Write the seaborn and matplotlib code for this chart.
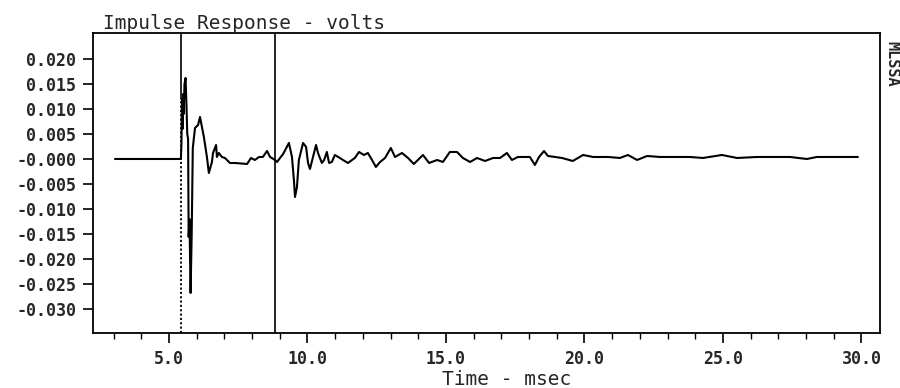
import numpy as np
import pandas as pd
import matplotlib
matplotlib.use("Agg")
import matplotlib.pyplot as plt
import seaborn as sns
from matplotlib.ticker import FixedLocator

# ---- data ----
time_ms = [3.05, 5.43, 5.45, 5.47, 5.49, 5.51, 5.53, 5.56, 5.60, 5.63, 5.66,
           5.69, 5.71, 5.74, 5.78, 5.82, 5.86, 5.94, 6.05, 6.12, 6.19, 6.26,
           6.37, 6.44, 6.55, 6.59, 6.70, 6.73, 6.80, 6.91, 7.02, 7.20, 7.38,
           7.82, 7.96, 8.10, 8.25, 8.39, 8.54, 8.65, 8.83, 8.90, 9.12, 9.33,
           9.44, 9.51, 9.55, 9.62, 9.69, 9.84, 9.95, 10.02, 10.09, 10.20,
           10.31, 10.38, 10.52, 10.60, 10.70, 10.78, 10.88, 10.99, 11.17,
           11.28, 11.46, 11.71, 11.86, 12.04, 12.18, 12.33, 12.47, 12.62,
           12.80, 13.01, 13.16, 13.41, 13.63, 13.84, 14.17, 14.39, 14.68,
           14.89, 15.14, 15.40, 15.61, 15.87, 16.12, 16.41, 16.70, 16.95,
           17.20, 17.38, 17.60, 17.85, 18.03, 18.21, 18.36, 18.54, 18.68,
           18.94, 19.19, 19.58, 19.95, 20.31, 20.85, 21.28, 21.57, 21.90,
           22.26, 22.73, 23.34, 23.81, 24.28, 24.96, 25.51, 26.23, 27.42,
           28.03, 28.39, 28.97, 29.87]
volts = [0.0, 0.0, 0.003, 0.012, 0.006, 0.013, 0.009, 0.015, 0.0162, 0.011,
         0.005, 0.004, -0.0156, -0.012, -0.0268, -0.015, 0.0022, 0.0062,
         0.0068, 0.0084, 0.0064, 0.0044, 0.0004, -0.0028, -0.0006, 0.0012,
         0.0028, 0.0004, 0.0012, 0.0004, 0.0002, -0.0008, -0.0008, -0.001,
         0.0002, -0.0002, 0.0004, 0.0004, 0.0016, 0.0004, -0.0002, -0.0006,
         0.0010, 0.0032, 0.0004, -0.0042, -0.0076, -0.0056, -0.0002, 0.0032,
         0.0024, -0.0008, -0.002, 0.0004, 0.0028, 0.0012, -0.0008, -0.0002,
         0.0014, -0.0008, -0.0006, 0.0008, 0.0002, -0.0002, -0.0008, 0.0002,
         0.0014, 0.0008, 0.0012, -0.0002, -0.0016, -0.0006, 0.0002, 0.0022,
         0.0004, 0.0012, 0.0002, -0.001, 0.0008, -0.0008, -0.0002, -0.0006,
         0.0014, 0.0014, 0.0002, -0.0006, 0.0002, -0.0004, 0.0002, 0.0002,
         0.0012, -0.0002, 0.0004, 0.0004, 0.0004, -0.0012, 0.0004, 0.0016,
         0.0006, 0.0004, 0.0002, -0.0004, 0.0008, 0.0004, 0.0004, 0.0002,
         0.0008, -0.0002, 0.0006, 0.0004, 0.0004, 0.0004, 0.0002, 0.0008,
         0.0002, 0.0004, 0.0004, 0.0, 0.0004, 0.0004, 0.0004]

# cursor markers (ms)
cursor_start = 5.43
cursor_end = 8.83

x_major = [5.0, 10.0, 15.0, 20.0, 25.0, 30.0]
x_major_labels = ["5.0", "10.0", "15.0", "20.0", "25.0", "30.0"]
x_minor = [3, 4, 6, 7, 8, 9, 11, 12, 13, 14, 16, 17, 18, 19, 21, 22, 23, 24,
           26, 27, 28, 29]
y_ticks = [-0.030, -0.025, -0.020, -0.015, -0.010, -0.005, 0.0,
           0.005, 0.010, 0.015, 0.020]
y_labels = ["-0.030", "-0.025", "-0.020", "-0.015", "-0.010", "-0.005",
            "-0.000", "0.005", "0.010", "0.015", "0.020"]

df = pd.DataFrame({"Time": time_ms, "Volts": volts})

# ---- plot ----
sns.set_theme(style="white")
plt.rcParams["font.family"] = ["DejaVu Sans Mono"]

fig = plt.figure(figsize=(9, 3.88), dpi=100)
ax = fig.add_axes([0.1033, 0.1418, 0.8745, 0.7732])

sns.lineplot(data=df, x="Time", y="Volts", ax=ax, color="black",
             linewidth=1.5, estimator=None, sort=False)

# cursors: start cursor solid at top, dotted below
ax.axvline(cursor_start, ymin=0.78, ymax=1.0, color="black", lw=1.2)
ax.axvline(cursor_start, ymin=0.0, ymax=0.78, color="black", lw=1.3,
           linestyle=(0, (1.2, 1.2)))
ax.axvline(cursor_end, color="black", lw=1.2)

ax.set_xlim(2.256, 30.67)
ax.set_ylim(-0.0348, 0.0252)

ax.xaxis.set_major_locator(FixedLocator(x_major))
ax.xaxis.set_minor_locator(FixedLocator(x_minor))
ax.set_xticklabels(x_major_labels)
ax.set_yticks(y_ticks)
ax.set_yticklabels(y_labels)

ax.tick_params(axis="both", which="major", direction="out", length=7,
               width=1.2, color="black", labelsize=12, pad=5)
ax.tick_params(axis="x", which="minor", direction="out", length=4,
               width=1.0, color="black", bottom=True)
ax.tick_params(axis="x", which="major", bottom=True)
ax.tick_params(axis="y", which="major", left=True)
for lab in ax.get_xticklabels() + ax.get_yticklabels():
    lab.set_fontweight("bold")

for side in ["left", "right", "top", "bottom"]:
    ax.spines[side].set_visible(True)
    ax.spines[side].set_color("black")
    ax.spines[side].set_linewidth(1.3)

ax.set_xlabel("Time - msec", fontsize=14, labelpad=1)
ax.xaxis.set_label_coords(0.525, -0.125)
ax.set_ylabel("")
ax.set_title("Impulse Response - volts", loc="left", fontsize=14,
             pad=1, x=0.013)

fig.text(0.991, 0.835, "MLSSA", rotation=270, fontsize=11,
         fontweight="bold", ha="center", va="center")

fig.savefig("out.png", dpi=100)
